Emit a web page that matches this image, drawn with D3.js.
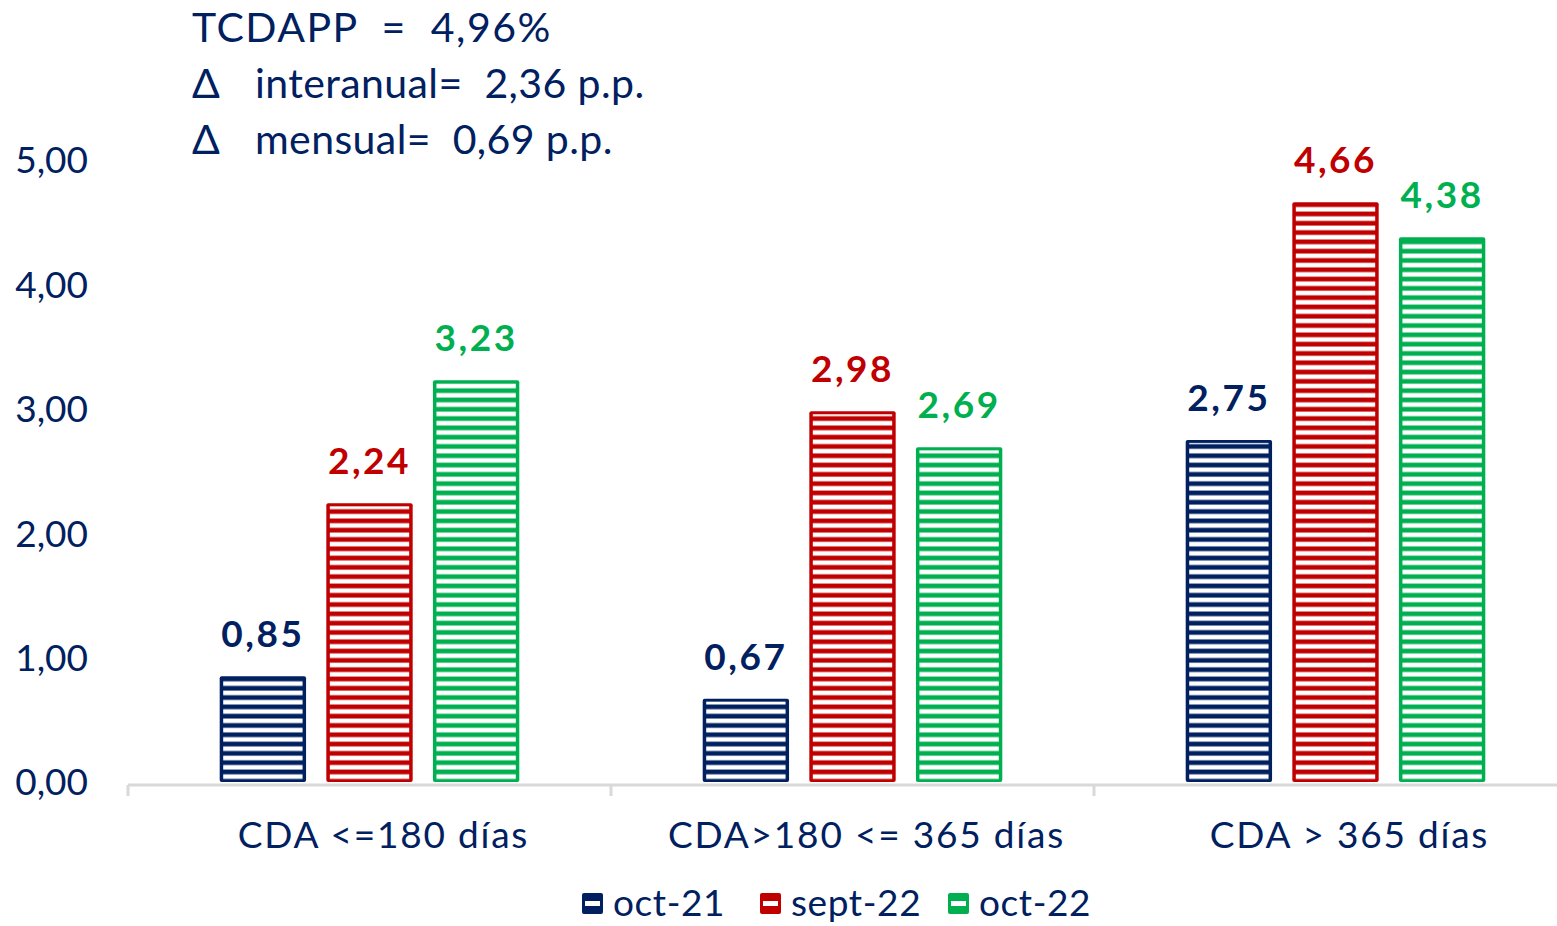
<!DOCTYPE html>
<html>
<head>
<meta charset="utf-8">
<script src="https://cdn.jsdelivr.net/npm/d3@7"></script>
<style>
  body { margin: 0; background: #fff; }
  svg { display: block; font-family: Lato, "Open Sans", sans-serif; }
</style>
</head>
<body>
<svg id="chart"></svg>
<script>
const width = 1557, height = 926;

// data
const categories = ["CDA <=180 días", "CDA>180 <= 365 días", "CDA > 365 días"];
const series = ["oct-21", "sept-22", "oct-22"];
const colors = ["#002060", "#C00000", "#00B050"];
const oct21 = [0.85, 0.67, 2.75];
const sept22 = [2.24, 2.98, 4.66];
const oct22 = [3.23, 2.69, 4.38];
const yTicks = [0, 1, 2, 3, 4, 5];
const notes = [
    { sym: "", text: "TCDAPP  =  4,96%" },
    { sym: "Δ", text: "interanual=  2,36 p.p." },
    { sym: "Δ", text: "mensual=  0,69 p.p." }
];

const values = [oct21, sept22, oct22];
const navy = "#002060";
const fmt = v => d3.format(".2f")(v).replace(".", ",");

const svg = d3.select("#chart")
    .attr("width", width)
    .attr("height", height);

// striped fills
const defs = svg.append("defs");
series.forEach((s, i) => {
    const p = defs.append("pattern")
        .attr("id", "stripe" + i)
        .attr("patternUnits", "userSpaceOnUse")
        .attr("width", 10)
        .attr("height", 9.3);
    p.append("rect").attr("width", 10).attr("height", 9.3).attr("fill", colors[i]);
    p.append("rect").attr("y", 2.4).attr("width", 10).attr("height", 4.6).attr("fill", "#fff");
});

const x0 = d3.scaleBand()
    .domain(categories)
    .range([128, 1577]);

const x1 = d3.scaleBand()
    .domain(series)
    .range([0, x0.bandwidth()])
    .paddingInner(0.19)
    .paddingOuter(0.86);

const y = d3.scaleLinear()
    .domain([0, 5])
    .range([782, 160]);

// y tick labels (no axis line)
svg.append("g")
    .selectAll("text")
    .data(yTicks)
    .enter().append("text")
    .attr("x", 88)
    .attr("y", d => y(d))
    .attr("dy", "0.36em")
    .attr("text-anchor", "end")
    .attr("fill", navy)
    .style("font-size", "37px")
    .text(d => fmt(d));

// bars
categories.forEach((c, ci) => {
    const g = svg.append("g").attr("transform", `translate(${x0(c)},0)`);
    series.forEach((s, si) => {
        const v = values[si][ci];
        const bx = x1(s), bw = x1.bandwidth();
        const top = y(v), h = y(0) - y(v);
        g.append("rect")
            .attr("x", bx).attr("y", top)
            .attr("width", bw).attr("height", h)
            .attr("rx", 2)
            .attr("fill", colors[si]);
        g.append("rect")
            .attr("x", bx + 3.5).attr("y", top + 3)
            .attr("width", bw - 7).attr("height", Math.max(0, h - 5))
            .attr("fill", `url(#stripe${si})`);
        g.append("text")
            .attr("x", bx + bw / 2)
            .attr("y", top - 29)
            .attr("text-anchor", "middle")
            .attr("fill", colors[si])
            .style("font-size", "37px")
            .style("font-weight", "bold")
            .style("letter-spacing", "2.5px")
            .text(fmt(v));
    });
});

// x axis line and ticks
const axis = svg.append("g").attr("stroke", "#d9d9d9").attr("stroke-width", 3);
axis.append("line")
    .attr("x1", 128).attr("x2", width)
    .attr("y1", 785).attr("y2", 785);
axis.selectAll(".tick")
    .data(categories)
    .enter().append("line")
    .attr("x1", d => x0(d)).attr("x2", d => x0(d))
    .attr("y1", 785).attr("y2", 796);

// category labels (sit a little right of the group centre, as in the original)
svg.append("g")
    .selectAll("text")
    .data(categories)
    .enter().append("text")
    .attr("x", d => x0(d) + x0.bandwidth() / 2 + 14)
    .attr("y", 848)
    .attr("text-anchor", "middle")
    .attr("fill", navy)
    .style("font-size", "37px")
    .style("letter-spacing", "1.8px")
    .text(d => d);

// legend
const legendX = [582, 760, 948];
const legend = svg.append("g");
series.forEach((s, i) => {
    const lx = legendX[i], ly = 893;
    legend.append("rect")
        .attr("x", lx).attr("y", ly)
        .attr("width", 21).attr("height", 21)
        .attr("rx", 2)
        .attr("fill", colors[i]);
    legend.append("rect")
        .attr("x", lx + 3).attr("y", ly + 8)
        .attr("width", 15).attr("height", 5)
        .attr("fill", "#fff");
    legend.append("text")
        .attr("x", lx + 31)
        .attr("y", 916)
        .attr("fill", navy)
        .style("font-size", "37px")
        .style("letter-spacing", "0.6px")
        .text(s);
});

// summary notes
const note = svg.append("g").attr("fill", navy).style("font-size", "41px");
notes.forEach((n, i) => {
    const ny = 42 + i * 56;
    if (n.sym) {
        note.append("text").attr("x", 192).attr("y", ny).text(n.sym);
        note.append("text").attr("x", 255).attr("y", ny).attr("xml:space", "preserve")
            .style("letter-spacing", "0.4px").text(n.text);
    } else {
        note.append("text").attr("x", 192).attr("y", ny).attr("xml:space", "preserve")
            .style("letter-spacing", "1.5px").text(n.text);
    }
});
</script>
</body>
</html>
